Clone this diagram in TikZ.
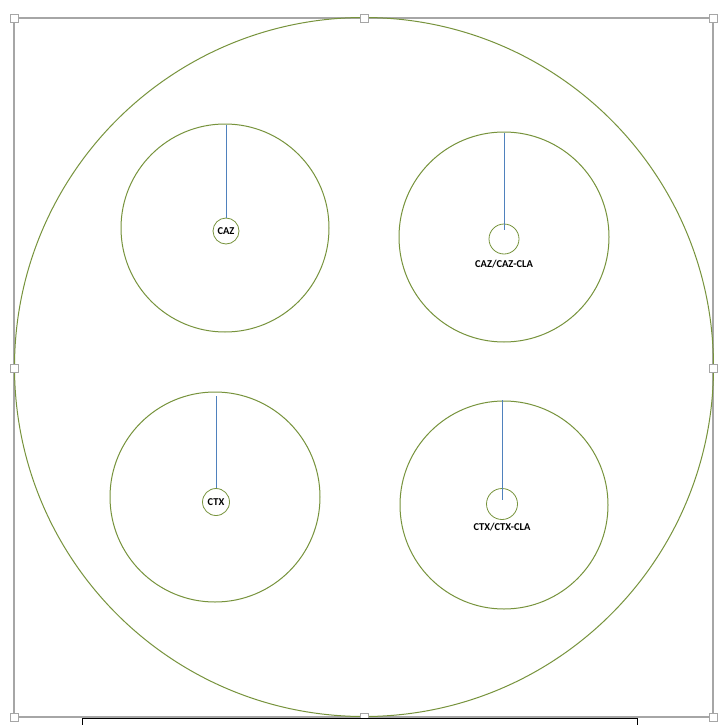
\documentclass[tikz,border=0pt]{standalone}
\usepackage{fontspec}
\setmainfont{Carlito}
\definecolor{ringgreen}{RGB}{119,147,60}
\definecolor{stickblue}{RGB}{79,129,189}
\definecolor{framegray}{RGB}{166,166,166}
\tikzset{
  ring/.style={draw=ringgreen, line width=1pt},
  dot/.style={circle, draw=ringgreen, line width=0.8pt, minimum size=#1, inner sep=0pt},
  stick/.style={draw=stickblue, line width=1pt},
  lbl/.style={font=\bfseries\fontsize{10.5}{12}\selectfont, inner sep=0pt},
  handle/.style={draw=framegray, fill=white, line width=0.8pt, minimum size=8pt, inner sep=0pt},
}
\begin{document}
\begin{tikzpicture}[x=1pt,y=-1pt]
\useasboundingbox (0,0) rectangle (718,725);
\clip (0,0) rectangle (718,725);
\fill[white] (0,0) rectangle (718,725);
% selection frame
\draw[framegray, line width=1.2pt] (14,18) rectangle (713,717);
% big circle
\draw[ring] (364,367) ellipse [x radius=349.5, y radius=349.5];
% top-left
\draw[ring] (225,228) circle [radius=104];
\node[dot=26pt] (c1) at (226,231) {};
\node[lbl] at (c1) {CAZ};
\coordinate (t1) at (226,125);
\draw[stick] (t1) -- (c1.north);
% top-right
\draw[ring] (504,237) circle [radius=105];
\node[dot=30pt] (c2) at (504,239) {};
\node[lbl] at (504,264) {CAZ/CAZ-CLA};
\coordinate (t2) at (504,133);
\draw[stick] (t2) -- (504,230);
% bottom-left
\draw[ring] (215,497) circle [radius=105];
\node[dot=27pt] (c3) at (216,502) {};
\node[lbl] at (c3) {CTX};
\coordinate (t3) at (216,396);
\draw[stick] (t3) -- (c3.north);
% bottom-right
\draw[ring] (504,505) circle [radius=104];
\node[dot=31pt] (c4) at (502,504) {};
\node[lbl] at (502,527) {CTX/CTX-CLA};
\coordinate (t4) at (502,400);
\draw[stick] (t4) -- (502,500);
% handles
\foreach \p in {(14,18),(364,18),(713,18),(14,368),(713,368),(14,717),(364,717),(713,717)}
  \node[handle] at \p {};
% bottom box
\draw[black, line width=1pt, fill=white] (82,718) rectangle (637,740);
\end{tikzpicture}
\end{document}
